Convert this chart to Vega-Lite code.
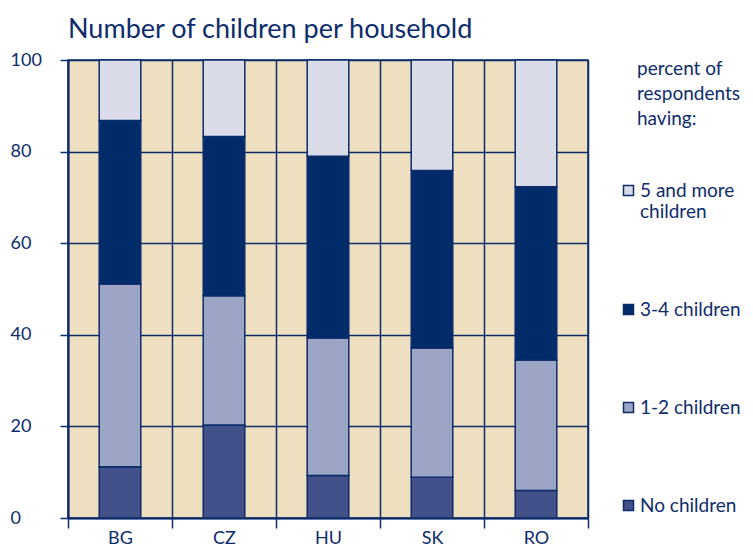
{
  "$schema": "https://vega.github.io/schema/vega-lite/v6.json",
  "autosize": "none",
  "width": 520,
  "height": 458,
  "padding": {"left": 68, "top": 60, "right": 165, "bottom": 34},
  "background": "white",
  "title": {
    "text": "Number of children per household",
    "anchor": "start",
    "frame": "group",
    "baseline": "alphabetic",
    "offset": -14,
    "font": "Lato",
    "fontSize": 27,
    "fontWeight": "normal",
    "color": "#0D2C6C"
  },
  "config": {
    "view": {"fill": "#EEDFC0", "stroke": "#0D2C6C", "strokeWidth": 1.5},
    "font": "Lato"
  },
  "data": {
    "values": [
      {"country": "BG", "group": "No children", "k": 1, "pct": 11.2},
      {"country": "BG", "group": "1-2 children", "k": 2, "pct": 39.9},
      {"country": "BG", "group": "3-4 children", "k": 3, "pct": 35.7},
      {"country": "BG", "group": "5 and more children", "k": 4, "pct": 13.2},
      {"country": "CZ", "group": "No children", "k": 1, "pct": 20.3},
      {"country": "CZ", "group": "1-2 children", "k": 2, "pct": 28.2},
      {"country": "CZ", "group": "3-4 children", "k": 3, "pct": 34.8},
      {"country": "CZ", "group": "5 and more children", "k": 4, "pct": 16.7},
      {"country": "HU", "group": "No children", "k": 1, "pct": 9.3},
      {"country": "HU", "group": "1-2 children", "k": 2, "pct": 30.0},
      {"country": "HU", "group": "3-4 children", "k": 3, "pct": 39.7},
      {"country": "HU", "group": "5 and more children", "k": 4, "pct": 21.0},
      {"country": "SK", "group": "No children", "k": 1, "pct": 8.9},
      {"country": "SK", "group": "1-2 children", "k": 2, "pct": 28.2},
      {"country": "SK", "group": "3-4 children", "k": 3, "pct": 38.8},
      {"country": "SK", "group": "5 and more children", "k": 4, "pct": 24.1},
      {"country": "RO", "group": "No children", "k": 1, "pct": 6.0},
      {"country": "RO", "group": "1-2 children", "k": 2, "pct": 28.5},
      {"country": "RO", "group": "3-4 children", "k": 3, "pct": 37.8},
      {"country": "RO", "group": "5 and more children", "k": 4, "pct": 27.7}
    ]
  },
  "mark": {"type": "bar", "width": {"band": 0.4}, "stroke": "#0D2C6C", "strokeWidth": 1.5},
  "encoding": {
    "x": {
      "field": "country",
      "type": "nominal",
      "sort": ["BG", "CZ", "HU", "SK", "RO"],
      "scale": {"paddingInner": 0, "paddingOuter": 0},
      "axis": {
        "title": null,
        "tickBand": "extent",
        "grid": true,
        "gridColor": "#0D2C6C",
        "gridWidth": 1.5,
        "gridOpacity": 1,
        "domainColor": "#0D2C6C",
        "domainWidth": 2,
        "tickColor": "#0D2C6C",
        "tickWidth": 1.5,
        "tickSize": 10,
        "labelAngle": 0,
        "labelFont": "Lato",
        "labelFontSize": 18,
        "labelColor": "#0D2C6C",
        "labelPadding": 1,
        "labelBaseline": "top"
      }
    },
    "y": {
      "field": "pct",
      "type": "quantitative",
      "stack": "zero",
      "scale": {"domain": [0, 100], "nice": false},
      "axis": {
        "title": null,
        "values": [0, 20, 40, 60, 80, 100],
        "grid": true,
        "gridColor": "#0D2C6C",
        "gridWidth": 1.5,
        "gridOpacity": 1,
        "domainColor": "#0D2C6C",
        "domainWidth": 2,
        "tickColor": "#0D2C6C",
        "tickWidth": 1.5,
        "tickSize": 8,
        "labelFont": "Lato",
        "labelFontSize": 18,
        "labelColor": "#0D2C6C",
        "labelAlign": "left",
        "labelPadding": 50,
        "labelFlush": false
      }
    },
    "order": {"field": "k", "type": "quantitative", "sort": "ascending"},
    "color": {
      "field": "group",
      "type": "nominal",
      "scale": {
        "domain": ["5 and more children", "3-4 children", "1-2 children", "No children"],
        "range": ["#D9DCE8", "#002B69", "#9DA5C6", "#42518A"]
      },
      "legend": {
        "orient": "none",
        "legendX": 569,
        "legendY": 0,
        "title": ["percent of", "respondents", "having:"],
        "titleFont": "Lato",
        "titleFontSize": 19,
        "titleFontWeight": "normal",
        "titleColor": "#0D2C6C",
        "titleLineHeight": 25,
        "titlePadding": 52,
        "titleBaseline": "top",
        "symbolType": "square",
        "symbolSize": 100,
        "symbolStrokeColor": "#0D2C6C",
        "symbolStrokeWidth": 1.5,
        "symbolOpacity": 1,
        "symbolOffset": -18,
        "labelOffset": 2,
        "labelFont": "Lato",
        "labelFontSize": 19,
        "labelColor": "#0D2C6C",
        "labelBaseline": "middle",
        "labelLimit": 200,
        "labelExpr": "datum.label == '5 and more children' ? ['5 and more', 'children'] : datum.label",
        "rowPadding": 78
      }
    }
  }
}
